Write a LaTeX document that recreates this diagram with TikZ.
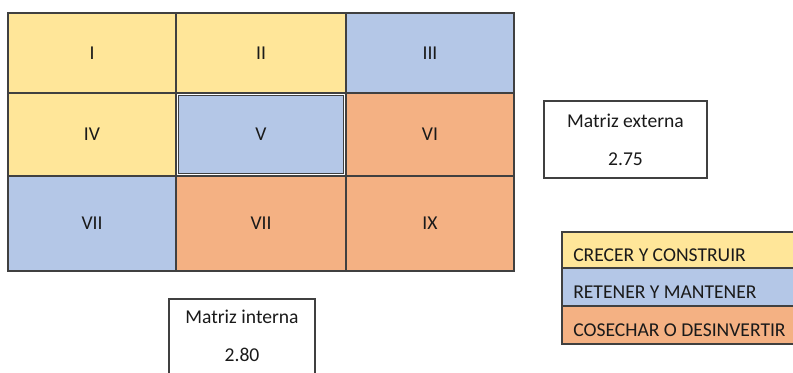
\documentclass[tikz,border=0pt]{standalone}
\usepackage{fontspec}
\setmainfont{Carlito}
\usetikzlibrary{fit}
\definecolor{grow}{HTML}{FFE699}
\definecolor{hold}{HTML}{B4C7E7}
\definecolor{harvest}{HTML}{F4B183}
\definecolor{rule}{HTML}{404040}
\definecolor{ink}{HTML}{1A1A1A}
\begin{document}
\begin{tikzpicture}[x=0.75pt,y=-0.75pt,
  txt/.style={text=ink,font=\fontsize{14.7}{17}\selectfont},
  box/.style={draw=rule,line width=0.8pt,inner sep=0pt},
  cell/.style={box,label={[txt]center:#1}},
  keytext/.style={txt,anchor=west,inner sep=0pt}]
\useasboundingbox (0,0) rectangle (793,373);
\begin{scope}
\clip (0,0) rectangle (793,373);
% IE matrix cells
\node[cell=I,fill=grow,fit={(8,13)(176,93)}] (c1) {};
\node[cell=II,fill=grow,fit={(176,13)(346,93)}] (c2) {};
\node[cell=III,fill=hold,fit={(346,13)(514,93)}] (c3) {};
\node[cell=IV,fill=grow,fit={(8,93)(176,176)}] (c4) {};
\node[cell=VI,fill=harvest,fit={(346,93)(514,176)}] (c6) {};
\node[cell=VII,fill=hold,fit={(8,176)(176,271)}] (c7) {};
\node[cell=VII,fill=harvest,fit={(176,176)(346,271)}] (c8) {};
\node[cell=IX,fill=harvest,fit={(346,176)(514,271)}] (c9) {};
% highlighted cell with double frame
\node[cell=V,fill=hold,draw=rule,double=white,double distance=1pt,line width=0.6pt,fit={(177.5,94.5)(344.5,174.5)}] (c5) {};
% score boxes
\node[box,fit={(544,101)(707,178)}] (ext) {};
\node[txt] (extlab) at (625.5,121) {Matriz externa};
\node[txt] (extval) at (625.5,159) {2.75};
\node[box,fit={(169,299)(315,380)}] (int) {};
\node[txt] (intlab) at (242,317) {Matriz interna};
\node[txt] (intval) at (242,355) {2.80};
% legend
\node[box,fill=grow,fit={(562,232)(800,268)}] (k1) {};
\node[box,fill=hold,fit={(562,268)(800,306)}] (k2) {};
\node[box,fill=harvest,fit={(562,306)(800,344)}] (k3) {};
\node[keytext] (k1t) at (573,255) {CRECER Y CONSTRUIR};
\node[keytext] (k2t) at (573,292) {RETENER Y MANTENER};
\node[keytext] (k3t) at (573,330) {COSECHAR O DESINVERTIR};
\end{scope}
\end{tikzpicture}
\end{document}
